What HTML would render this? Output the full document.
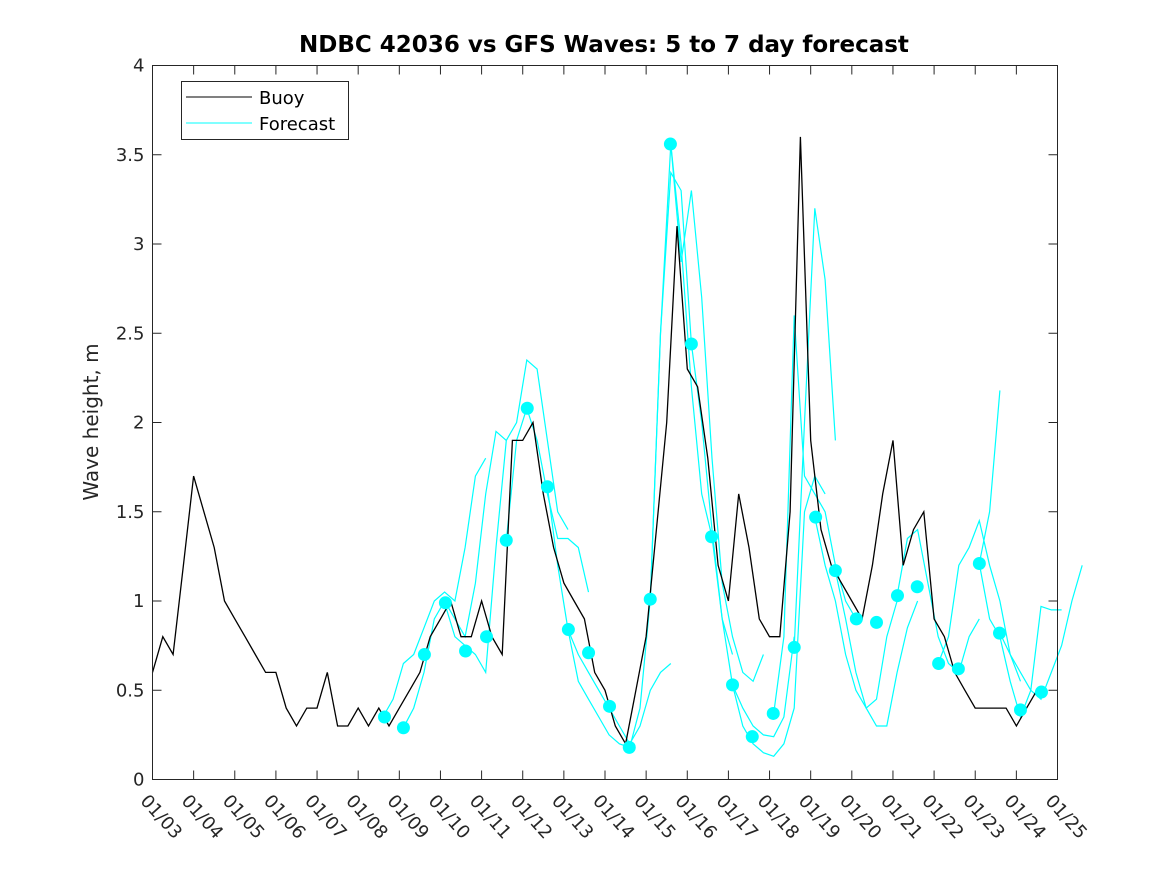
<!DOCTYPE html>
<html><head><meta charset="utf-8"><style>
body{margin:0;background:#fff;}
svg{display:block;font-family:"DejaVu Sans","Liberation Sans",sans-serif;}
</style></head><body>
<svg id="chart" width="1167" height="875" xmlns="http://www.w3.org/2000/svg">
<rect x="0" y="0" width="1167" height="875" fill="#fff"/>
<text x="604" y="52" text-anchor="middle" font-size="23" font-weight="bold" fill="#000">NDBC 42036 vs GFS Waves: 5 to 7 day forecast</text>
<text transform="translate(98,422) rotate(-90)" text-anchor="middle" font-size="20" fill="#262626">Wave height, m</text>
<g id="marks"></g>
<rect x="152.5" y="65.5" width="905" height="714" fill="none" stroke="#262626" stroke-width="1"/>
<g id="axes"></g>
<g>
<rect x="181.5" y="81.5" width="167" height="58" fill="#fff" stroke="#262626"/>
<line x1="186" y1="97" x2="252" y2="97" stroke="#000" stroke-width="1"/>
<text x="259" y="104" font-size="18" fill="#000">Buoy</text>
<line x1="186" y1="123" x2="252" y2="123" stroke="#00ffff" stroke-width="1"/>
<text x="259" y="130" font-size="18" fill="#000">Forecast</text>
</g>
</svg>
<script>
const xTickLabels=["01/03","01/04","01/05","01/06","01/07","01/08","01/09","01/10","01/11","01/12","01/13","01/14","01/15","01/16","01/17","01/18","01/19","01/20","01/21","01/22","01/23","01/24","01/25"];
const yTicks=[0,0.5,1,1.5,2,2.5,3,3.5,4];
const yTickLabels=["0","0.5","1","1.5","2","2.5","3","3.5","4"];
// buoy values every 6h from 01/03
const buoy=[0.6,0.8,0.7,1.2,1.7,1.5,1.3,1.0,0.9,0.8,0.7,0.6,0.6,0.4,0.3,0.4,0.4,0.6,0.3,0.3,0.4,0.3,0.4,0.3,0.4,0.5,0.6,0.8,0.9,1.0,0.8,0.8,1.0,0.8,0.7,1.9,1.9,2.0,1.6,1.3,1.1,1.0,0.9,0.6,0.5,0.3,0.2,0.5,0.8,1.4,2.0,3.1,2.3,2.2,1.8,1.2,1.0,1.6,1.3,0.9,0.8,0.8,1.5,3.6,1.9,1.4,1.2,1.1,1.0,0.9,1.2,1.6,1.9,1.2,1.4,1.5,0.9,0.8,0.6,0.5,0.4,0.4,0.4,0.4,0.3,0.4,0.5];
const runStarts=[5.6,6.1,7.1,8.6,9.6,10.1,11.6,12.1,12.6,13.6,14.1,15.1,15.6,16.1,16.6,18.1,19.1,20.1,20.1,20.6];
const runValues=[
[0.35,0.45,0.65,0.7,0.85,1.0,1.05,1.0,1.3,1.7,1.8],
[0.29,0.4,0.6,0.9,1.0,0.9,0.8,1.1,1.6,1.95,1.9],
[0.99,0.8,0.75,0.7,0.6,1.3,1.9,2.0,2.35,2.3,1.9,1.5,1.4],
[1.34,1.9,2.08,1.9,1.6,1.35,1.35,1.3,1.05],
[1.64,1.2,0.84,0.55,0.45,0.35,0.25,0.2,0.18],
[0.84,0.7,0.6,0.5,0.4,0.3,0.2,0.3,0.5,0.6,0.65],
[0.18,0.4,1.01,2.5,3.56,3.0,2.2,1.6,1.36],
[1.01,2.5,3.4,3.3,2.44,2.0,1.4,0.9,0.7],
[3.56,2.9,3.3,2.7,1.8,1.1,0.8,0.6,0.55,0.7],
[1.36,0.9,0.53,0.4,0.3,0.25,0.24,0.35,0.8],
[0.53,0.3,0.2,0.15,0.13,0.2,0.4,1.5,1.7,1.6],
[0.37,0.8,2.6,1.7,1.6,1.5,1.2,1.0,0.9],
[0.74,2.0,3.2,2.8,1.9],
[1.47,1.2,1.0,0.7,0.5,0.4,0.45,0.8,1.0],
[1.17,0.9,0.6,0.4,0.3,0.3,0.6,0.85,1.0],
[1.03,1.35,1.4,1.1,0.8,0.65,0.6,0.8,0.9],
[0.65,0.8,1.2,1.3,1.45,1.2,1.0,0.7,0.55],
[1.21,1.5,2.18],
[1.21,0.9,0.8,0.55,0.35,0.5,0.97,0.95,0.95],
[0.82,0.7,0.6,0.5,0.45,0.6,0.75,1.0,1.2]];
const dotDays=[5.64,6.10,6.61,7.12,7.61,8.12,8.60,9.11,9.60,10.11,10.60,11.11,11.59,12.10,12.59,13.10,13.59,14.10,14.58,15.09,15.60,16.12,16.60,17.11,17.60,18.11,18.59,19.11,19.59,20.10,20.59,21.10,21.61];
const dotValues=[0.35,0.29,0.70,0.99,0.72,0.80,1.34,2.08,1.64,0.84,0.71,0.41,0.18,1.01,3.56,2.44,1.36,0.53,0.24,0.37,0.74,1.47,1.17,0.90,0.88,1.03,1.08,0.65,0.62,1.21,0.82,0.39,0.49];

const NS="http://www.w3.org/2000/svg";
const X0=152.5,X1=1057.5,Y0=779.5,Y1=65.5;
function xs(d){return X0+(X1-X0)*d/22;}
function ys(v){return Y0-(Y0-Y1)*v/4;}
const marks=document.getElementById('marks');
const axes=document.getElementById('axes');
function mk(tag,attrs,parent){const e=document.createElementNS(NS,tag);for(const k in attrs)e.setAttribute(k,attrs[k]);parent.appendChild(e);return e;}

runValues.forEach((vals,i)=>{
  const d=vals.map((v,j)=>(j?'L':'M')+xs(runStarts[i]+j*0.25).toFixed(1)+','+ys(v).toFixed(1)).join(' ');
  const p=mk('path',{d:d,fill:'none',stroke:'#00ffff','stroke-width':1.2},marks);
  
  
});
const bd=buoy.map((v,j)=>(j?'L':'M')+xs(j*0.25).toFixed(1)+','+ys(v).toFixed(1)).join(' ');
const bp=mk('path',{d:bd,fill:'none',stroke:'#000','stroke-width':1.3},marks);


dotDays.forEach((d,i)=>{
  const c=mk('circle',{cx:xs(d),cy:ys(dotValues[i]),r:6.5,fill:'#00ffff'},marks);
  
  
});
xTickLabels.forEach((lab,i)=>{
  const x=xs(i);
  mk('line',{x1:x,y1:Y0,x2:x,y2:Y0-9,stroke:'#262626'},axes);
  mk('line',{x1:x,y1:Y1,x2:x,y2:Y1+9,stroke:'#262626'},axes);
  const t=mk('text',{transform:'translate('+(x-13)+','+(Y0+22)+') rotate(48)','font-size':18,fill:'#262626'},axes);
  t.textContent=lab;
  
  
});
yTicks.forEach((v,i)=>{
  const y=ys(v);
  mk('line',{x1:X0,y1:y,x2:X0+9,y2:y,stroke:'#262626'},axes);
  mk('line',{x1:X1,y1:y,x2:X1-9,y2:y,stroke:'#262626'},axes);
  const t=mk('text',{x:X0-8,y:y+6,'text-anchor':'end','font-size':18,fill:'#262626'},axes);
  t.textContent=yTickLabels[i];
  
  
});
</script>
</body></html>
